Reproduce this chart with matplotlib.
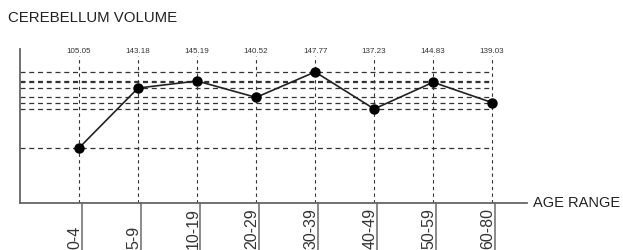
import numpy as np
import matplotlib
matplotlib.use("Agg")
import matplotlib.pyplot as plt
import matplotlib.transforms as mtransforms

plt.rcParams['font.family'] = ['Liberation Sans', 'DejaVu Sans']

age_ranges = ["0-4", "5-9", "10-19", "20-29", "30-39", "40-49", "50-59", "60-80"]
volume = [105.05, 143.18, 145.19, 140.52, 147.77, 137.23, 144.83, 139.03]
value_labels = ["105.05", "143.18", "145.19", "140.52", "147.77", "137.23", "144.83", "139.03"]

# the original squeezes the low range below ~137, so use a piecewise scale
brk = 137.23
ratio = 0.345

def fwd(v):
    v = np.asarray(v, dtype=float)
    return np.where(v >= brk, v, brk - (brk - v) * ratio)

def inv(u):
    u = np.asarray(u, dtype=float)
    return np.where(u >= brk, u, brk - (brk - u) / ratio)

fig = plt.figure(figsize=(6.23, 2.5), dpi=100)
ax = fig.add_axes([0.0321, 0.188, 0.8138, 0.616])

x = np.arange(len(age_ranges))
ax.set_yscale('function', functions=(fwd, inv))

ax.hlines(volume, -1, x[-1], colors='#333333', linestyles=(0, (4, 3)), linewidth=0.9, zorder=1)
for xi in x:
    ax.axvline(xi, ymin=0, ymax=0.955, color='#333333', linestyle=(0, (3, 3)), linewidth=0.8, zorder=1)

ax.plot(x, volume, color='#222222', linewidth=1.2, marker='o', markersize=6.5,
        markerfacecolor='black', markeredgecolor='black', zorder=3)

ax.set_xlim(-1, 7.59)
ax.set_ylim(59.6, 154.3)

trans = mtransforms.blended_transform_factory(ax.transData, ax.transAxes)
for xi, lab in zip(x, value_labels):
    ax.text(xi, 0.987, lab, transform=trans, ha='center', va='center', fontsize=5.8, color='#333333')

for xi, lab in zip(x, age_ranges):
    ax.plot([xi + 0.05, xi + 0.05], [0, -0.32], transform=trans, color='#777777',
            linewidth=1.2, clip_on=False)
    ax.text(xi - 0.07, -0.297, lab, transform=trans, rotation=90, ha='center', va='bottom',
            fontsize=11.5, color='#333333', clip_on=False)

for s in ['top', 'right']:
    ax.spines[s].set_visible(False)
for s in ['left', 'bottom']:
    ax.spines[s].set_color('#666666')
    ax.spines[s].set_linewidth(1.3)
ax.set_xticks([])
ax.set_yticks([])
ax.minorticks_off()

fig.text(0.856, 0.188, "AGE RANGE", ha='left', va='center', fontsize=10.5, color='#222222')
fig.text(0.013, 0.928, "CEREBELLUM VOLUME", ha='left', va='center', fontsize=10.8, color='#222222')

fig.savefig("out.png", dpi=100)
